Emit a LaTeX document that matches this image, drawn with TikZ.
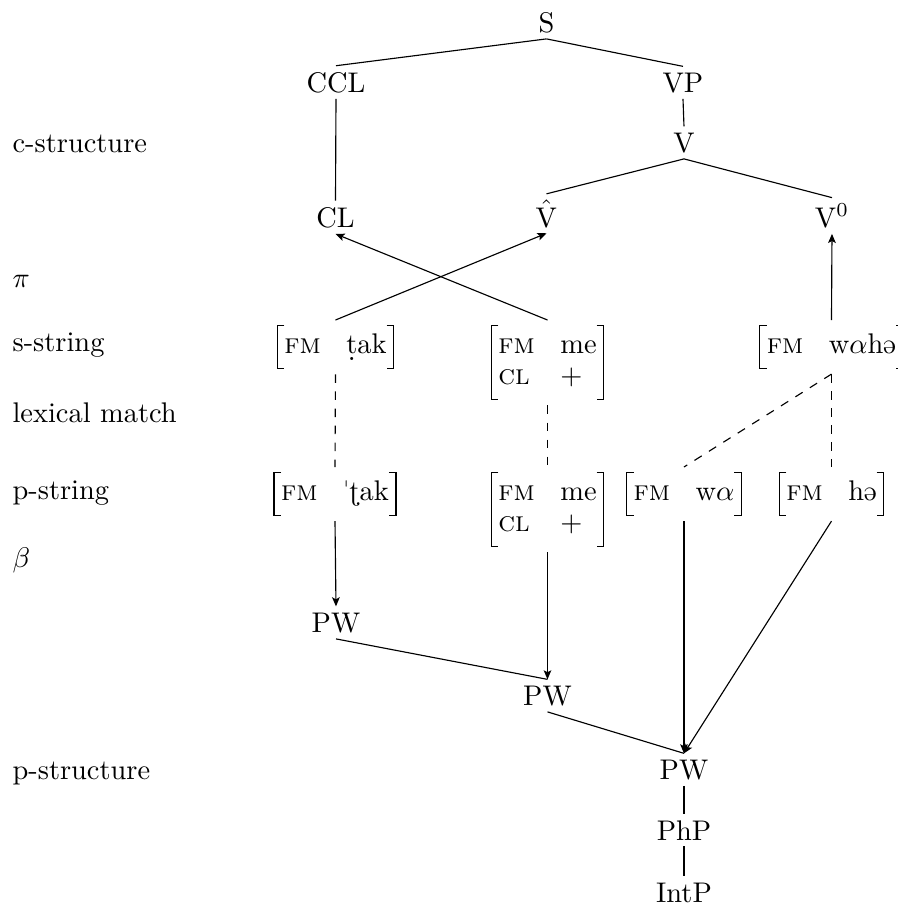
\documentclass[tikz,border=0pt]{standalone}
\usepackage{amsmath}
\usepackage{tipa}
\usetikzlibrary{arrows.meta}
\renewcommand{\arraystretch}{0.92}
\newcommand{\fsm}[1]{\begin{tabular}{@{}l@{\hspace{9pt}}l@{}}#1\end{tabular}}
\newcommand{\fsbrackets}[1]{%
  \draw[brk] ([shift={(2.5pt,-2pt)}]#1.north west) -- ([yshift=-2pt]#1.north west)
     -- ([yshift=2pt]#1.south west) -- ([shift={(2.5pt,2pt)}]#1.south west);
  \draw[brk] ([shift={(-2.5pt,-2pt)}]#1.north east) -- ([yshift=-2pt]#1.north east)
     -- ([yshift=2pt]#1.south east) -- ([shift={(-2.5pt,2pt)}]#1.south east);}
\begin{document}
\begin{tikzpicture}[x=0.352pt,y=-0.352pt,
  >={Stealth[length=3.2pt,width=2.7pt,inset=0.7pt]},
  cat/.style={inner sep=2pt, anchor=base},
  lab/.style={inner sep=0pt, anchor=base west},
  fs/.style={anchor=north, inner xsep=2.5pt, inner ysep=2pt, outer xsep=0pt, outer ysep=2pt},
  brk/.style={line width=0.45pt},
  lexline/.style={dashed}]
\useasboundingbox (0,0) rectangle (898,906);
% left labels
\node[lab] (lc)  at (12,152) {c-structure};
\node[lab] (lpi) at (12,287) {$\pi$};
\node[lab] (ls)  at (12,351) {s-string};
\node[lab] (llm) at (12,422) {lexical match};
\node[lab] (lp)  at (12,499) {p-string};
\node[lab] (lb)  at (12,567) {$\beta$};
\node[lab] (lps) at (12,779) {p-structure};
% c-structure
\node[cat] (S)   at (546.5,32) {S};
\node[cat] (CCL) at (336,92) {CCL};
\node[cat] (VP)  at (683,92) {VP};
\node[cat] (V)   at (684,152) {V};
\node[cat] (CL)  at (335.5,227) {CL};
\node[cat] (Vh)  at (546.5,227) {$\hat{\mathrm{V}}$};
\node[cat] (V0)  at (832,227) {V$^0$};
\draw (S.south) -- (CCL.north);
\draw (S.south) -- (VP.north);
\draw (CCL.south) -- (CL.north);
\draw (VP.south) -- (V.north);
\draw (V.south) -- (Vh.north);
\draw (V.south) -- (V0.north);
% s-string
\node[fs] (s1) at (335.5,320) {\fsm{\textsc{fm} & \textsubdot{t}ak}};
\node[fs] (s2) at (547.5,320) {\fsm{\textsc{fm} & me\\ \textsc{cl} & $+$}};
\node[fs] (s3) at (831.5,320) {\fsm{\textsc{fm} & w$\alpha$h\textschwa}};
\fsbrackets{s1}
\fsbrackets{s2}
\fsbrackets{s3}
\draw[->] (s1.north) -- (Vh.south);
\draw[->] (s2.north) -- (CL.south);
\draw[->] (s3.north) -- (V0.south);
% p-string
\node[fs] (p1) at (335,467) {\fsm{\textsc{fm} & \textprimstress\textrtailt ak}};
\node[fs] (p2) at (547.5,467) {\fsm{\textsc{fm} & me\\ \textsc{cl} & $+$}};
\node[fs] (p3) at (684,467) {\fsm{\textsc{fm} & w$\alpha$}};
\node[fs] (p4) at (831.5,467) {\fsm{\textsc{fm} & h\textschwa}};
\fsbrackets{p1}
\fsbrackets{p2}
\fsbrackets{p3}
\fsbrackets{p4}
\draw[lexline] (s1.south) -- (p1.north);
\draw[lexline] (s2.south) -- (p2.north);
\draw[lexline] (s3.south) -- (p3.north);
\draw[lexline] (s3.south) -- (p4.north);
% p-structure
\node[cat] (PW1)  at (336,632) {PW};
\node[cat] (PW2)  at (547.5,705) {PW};
\node[cat] (PW3)  at (684,779) {PW};
\node[cat] (PhP)  at (684,840) {PhP};
\node[cat] (IntP) at (684,902) {IntP};
\draw[->] (p1.south) -- (PW1.north);
\draw[->] (p2.south) -- (PW2.north);
\draw[->] (p3.south) -- (PW3.north);
\draw[->] (p4.south) -- (PW3.north);
\draw (PW1.south) -- (PW2.north);
\draw (PW2.south) -- (PW3.north);
\draw (PW3.south) -- (PhP.north);
\draw (PhP.south) -- (IntP.north);
\end{tikzpicture}
\end{document}
